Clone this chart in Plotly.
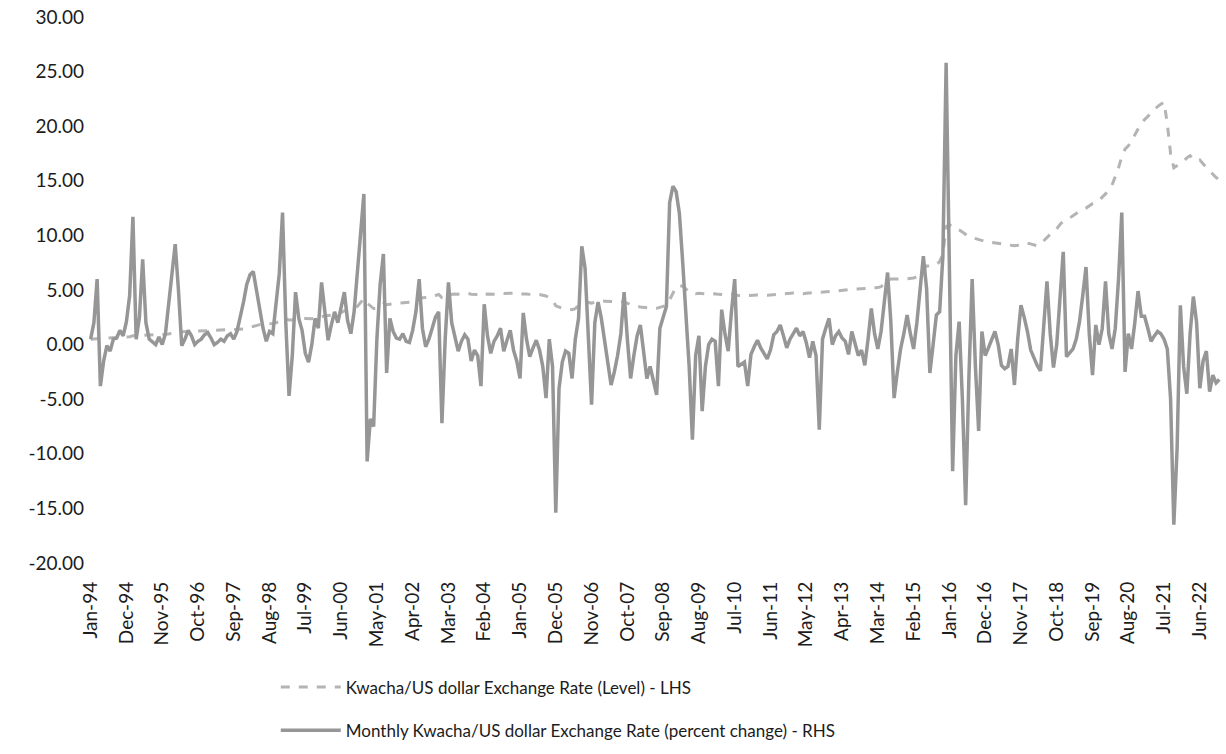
import pandas as pd
import plotly.graph_objects as go

# Monthly categories, Jan-1994 .. Dec-2022
months = pd.date_range("1994-01-01", "2022-12-01", freq="MS").strftime("%b-%y").tolist()

# Axis label positions: every 11th month starting Jan-94
tick_labels = months[::11]

# Value-axis ticks (hyphen-minus, two decimals)
y_ticks = [-20, -15, -10, -5, 0, 5, 10, 15, 20, 25, 30]
y_tick_text = ["-20.00", "-15.00", "-10.00", "-5.00", "0.00", "5.00",
               "10.00", "15.00", "20.00", "25.00", "30.00"]

# Kwacha per US dollar, level (rebased), monthly
level = [
    0.50, 0.52, 0.55, 0.55, 0.56, 0.57, 0.58, 0.60, 0.62, 0.64, 0.66, 0.68,   # 1994
    0.72, 0.80, 0.81, 0.82, 0.88, 0.90, 0.90, 0.90, 0.91, 0.92, 0.93, 0.95,   # 1995
    0.98, 1.04, 1.13, 1.18, 1.18, 1.19, 1.21, 1.22, 1.22, 1.23, 1.24, 1.25,   # 1996
    1.27, 1.28, 1.28, 1.28, 1.29, 1.30, 1.31, 1.32, 1.33, 1.35, 1.38, 1.42,   # 1997
    1.50, 1.60, 1.70, 1.78, 1.83, 1.86, 1.87, 1.90, 1.92, 2.00, 2.12, 2.30,   # 1998
    2.35, 2.25, 2.25, 2.35, 2.40, 2.42, 2.40, 2.36, 2.36, 2.42, 2.45, 2.58,   # 1999
    2.65, 2.66, 2.70, 2.78, 2.84, 2.94, 3.08, 3.15, 3.18, 3.28, 3.50, 3.83,   # 2000
    4.20, 3.80, 3.55, 3.30, 3.32, 3.50, 3.75, 3.65, 3.72, 3.75, 3.78, 3.80,   # 2001
    3.84, 3.85, 3.86, 3.90, 4.02, 4.25, 4.30, 4.30, 4.32, 4.38, 4.48, 4.60,   # 2002
    4.30, 4.32, 4.55, 4.62, 4.64, 4.62, 4.63, 4.66, 4.68, 4.62, 4.60, 4.58,   # 2003
    4.45, 4.60, 4.64, 4.60, 4.62, 4.64, 4.70, 4.68, 4.70, 4.72, 4.74, 4.72,   # 2004
    4.62, 4.66, 4.64, 4.60, 4.62, 4.60, 4.58, 4.52, 4.45, 4.30, 4.10, 3.55,   # 2005
    3.40, 3.32, 3.28, 3.25, 3.20, 3.30, 3.55, 3.85, 3.90, 3.85, 3.80, 3.88,   # 2006
    3.95, 4.00, 3.98, 3.95, 3.92, 3.90, 3.92, 3.95, 3.90, 3.80, 3.65, 3.55,   # 2007
    3.50, 3.45, 3.40, 3.35, 3.30, 3.30, 3.32, 3.40, 3.45, 3.60, 4.10, 4.70,   # 2008
    5.30, 5.40, 5.35, 5.10, 4.75, 4.70, 4.65, 4.70, 4.70, 4.65, 4.60, 4.62,   # 2009
    4.65, 4.60, 4.58, 4.55, 4.58, 4.60, 4.55, 4.50, 4.45, 4.48, 4.50, 4.52,   # 2010
    4.55, 4.55, 4.52, 4.50, 4.52, 4.55, 4.58, 4.60, 4.62, 4.65, 4.68, 4.70,   # 2011
    4.72, 4.70, 4.65, 4.66, 4.70, 4.75, 4.78, 4.80, 4.78, 4.80, 4.85, 4.88,   # 2012
    4.90, 4.92, 4.95, 4.97, 5.00, 5.02, 5.05, 5.08, 5.10, 5.12, 5.15, 5.15,   # 2013
    5.15, 5.18, 5.22, 5.30, 5.60, 5.90, 6.00, 6.02, 6.00, 6.00, 6.02, 6.03,   # 2014
    6.05, 6.10, 6.20, 6.40, 6.90, 7.20, 7.20, 7.25, 7.30, 7.60, 8.30, 10.80,  # 2015
    11.00, 10.70, 10.60, 10.50, 10.30, 10.10, 9.90, 9.80, 9.70, 9.60, 9.50, 9.45,  # 2016
    9.40, 9.35, 9.30, 9.25, 9.20, 9.15, 9.10, 9.10, 9.05, 9.10, 9.20, 9.30,   # 2017
    9.30, 9.20, 9.10, 9.05, 9.20, 9.50, 9.80, 10.10, 10.30, 10.60, 11.00, 11.30,  # 2018
    11.50, 11.60, 11.80, 12.00, 12.20, 12.40, 12.50, 12.70, 12.90, 13.00, 13.20, 13.50,  # 2019
    13.80, 14.20, 14.60, 15.40, 16.20, 17.20, 17.90, 18.20, 18.60, 19.20, 19.80, 20.30,  # 2020
    20.60, 20.90, 21.20, 21.50, 21.80, 22.00, 22.20, 20.20, 17.50, 16.20, 16.40, 16.60,  # 2021
    16.80, 17.10, 17.30, 17.00, 16.80, 16.90, 16.50, 16.20, 15.90, 15.60, 15.30, 15.10,  # 2022
]

# Month-on-month percent change of the Kwacha/US dollar rate
pct_change = [
    0.5, 2.0, 6.0, -3.8, -1.5, -0.1, -0.6, 0.5, 0.6, 1.3, 0.8, 2.1,          # 1994
    4.5, 11.7, 0.5, 2.5, 7.8, 2.0, 0.5, 0.2, 0.0, 0.7, 0.0, 1.0,             # 1995
    4.0, 6.5, 9.2, 5.0, -0.1, 0.5, 1.3, 0.8, 0.0, 0.3, 0.5, 0.9,             # 1996
    1.1, 0.6, 0.0, 0.2, 0.5, 0.3, 0.8, 1.0, 0.5, 1.2, 2.5, 3.9,              # 1997
    5.5, 6.4, 6.7, 5.0, 3.0, 1.5, 0.3, 1.2, 1.0, 3.9, 6.5, 12.1,             # 1998
    2.0, -4.7, -1.0, 4.8, 2.4, 1.3, -0.8, -1.6, 0.0, 2.4, 1.5, 5.7,          # 1999
    3.0, 0.4, 1.8, 3.0, 2.0, 3.6, 4.8, 2.2, 1.0, 3.0, 6.5, 9.5,              # 2000
    13.8, -10.7, -6.8, -7.5, 0.5, 5.5, 8.3, -2.6, 2.4, 1.2, 0.6, 0.5,        # 2001
    1.0, 0.3, 0.2, 1.3, 3.0, 6.0, 1.5, -0.2, 0.5, 1.5, 2.5, 3.0,             # 2002
    -7.2, 0.5, 5.7, 2.0, 0.5, -0.6, 0.3, 0.9, 0.5, -1.5, -0.5, -1.0,         # 2003
    -3.8, 3.7, 0.8, -0.8, 0.3, 0.8, 1.5, -0.6, 0.4, 1.3, -0.5, -1.5,         # 2004
    -3.1, 2.9, 0.5, -1.1, -0.3, 0.4, -0.5, -2.0, -4.9, 0.5, -2.0, -15.4,     # 2005
    -4.0, -1.6, -0.6, -0.8, -3.1, 0.5, 2.4, 9.0, 7.0, 0.5, -5.5, 2.0,        # 2006
    3.9, 2.4, 0.5, -1.5, -3.7, -2.5, -1.0, 1.0, 4.8, 0.5, -3.1, -1.0,        # 2007
    0.8, 1.8, -1.0, -3.1, -2.0, -3.5, -4.6, 1.5, 2.5, 3.5, 13.0, 14.5,       # 2008
    14.0, 12.0, 7.6, 3.0, -2.0, -8.7, -1.0, 0.8, -6.1, -2.0, 0.0, 0.5,       # 2009
    0.3, -3.8, 3.2, 1.0, -0.6, 3.0, 6.0, -2.0, -1.8, -1.6, -3.8, -0.9,       # 2010
    -0.2, 0.4, -0.3, -0.8, -1.3, -0.5, 0.9, 1.2, 1.8, 0.8, -0.3, 0.5,        # 2011
    1.0, 1.5, 0.8, 1.2, 0.2, -1.2, 0.3, -1.0, -7.8, 0.5, 1.5, 2.4,           # 2012
    0.0, 0.8, 1.2, 0.6, 0.3, -0.9, 1.2, 0.0, -1.0, -0.5, -1.9, 0.5,          # 2013
    3.3, 1.0, -0.4, 1.2, 4.0, 6.6, 2.1, -4.9, -2.5, -0.4, 1.0, 2.7,          # 2014
    1.0, -0.4, 2.0, 5.0, 8.1, 5.1, -2.6, 0.0, 2.7, 3.0, 8.1, 25.8,           # 2015
    5.0, -11.6, -1.0, 2.1, -5.0, -14.7, -3.0, 6.0, -2.0, -7.9, 1.2, -1.0,    # 2016
    -0.3, 0.5, 1.2, 0.0, -1.9, -2.2, -2.0, -0.4, -3.7, 0.5, 3.6, 2.5,        # 2017
    1.2, -0.5, -1.3, -1.9, -2.4, 1.5, 5.8, 1.0, -2.1, 0.0, 4.0, 8.5,         # 2018
    -1.1, -0.8, -0.4, 0.5, 2.1, 4.5, 7.1, 1.0, -2.8, 1.8, 0.0, 1.5,          # 2019
    5.8, 1.0, -0.4, 1.5, 6.0, 12.1, -2.5, 1.0, -0.4, 2.0, 4.9, 2.6,          # 2020
    2.6, 1.5, 0.3, 0.8, 1.2, 1.0, 0.5, -0.4, -5.0, -16.5, -9.5, 3.6,         # 2021
    -2.0, -4.5, 1.0, 4.4, 2.0, -4.0, -1.5, -0.6, -4.3, -2.8, -3.5, -3.2,     # 2022
]

FONT = "Lato, 'Open Sans', sans-serif"
TEXT = "#1c1c1c"

fig = go.Figure()

fig.add_trace(go.Scatter(
    x=months, y=level, mode="lines",
    name="Kwacha/US dollar Exchange Rate (Level) - LHS",
    line=dict(color="#b4b4b4", width=3, dash="dash"),
    legend="legend",
))

fig.add_trace(go.Scatter(
    x=months, y=pct_change, mode="lines",
    name="Monthly Kwacha/US dollar Exchange Rate (percent change) - RHS",
    line=dict(color="#969696", width=3.5),
    legend="legend2",
))

fig.update_layout(
    width=1226, height=754,
    margin=dict(l=89, r=5, t=17, b=188),
    paper_bgcolor="white", plot_bgcolor="white",
    font=dict(family=FONT, color=TEXT, size=17),
    showlegend=True,
    legend=dict(
        x=0.165, y=-0.195, xanchor="left", yanchor="top",
        font=dict(size=17, family=FONT, color=TEXT),
        bgcolor="rgba(0,0,0,0)", itemwidth=60,
    ),
    legend2=dict(
        x=0.165, y=-0.274, xanchor="left", yanchor="top",
        font=dict(size=17, family=FONT, color=TEXT),
        bgcolor="rgba(0,0,0,0)", itemwidth=60,
    ),
)

fig.update_xaxes(
    type="category",
    categoryorder="array", categoryarray=months,
    range=[-0.5, len(months) - 0.5],
    tickmode="array", tickvals=tick_labels, ticktext=tick_labels,
    tickangle=-90,
    ticklabelstandoff=14,
    tickfont=dict(size=19, family=FONT, color=TEXT),
    showgrid=False, showline=False, zeroline=False, ticks="",
)

fig.update_yaxes(
    range=[-20, 30],
    tickmode="array", tickvals=y_ticks, ticktext=y_tick_text,
    ticklabelstandoff=4,
    tickfont=dict(size=19, family=FONT, color=TEXT),
    showgrid=False, showline=False, zeroline=False, ticks="",
)

fig.write_html("out.html")
